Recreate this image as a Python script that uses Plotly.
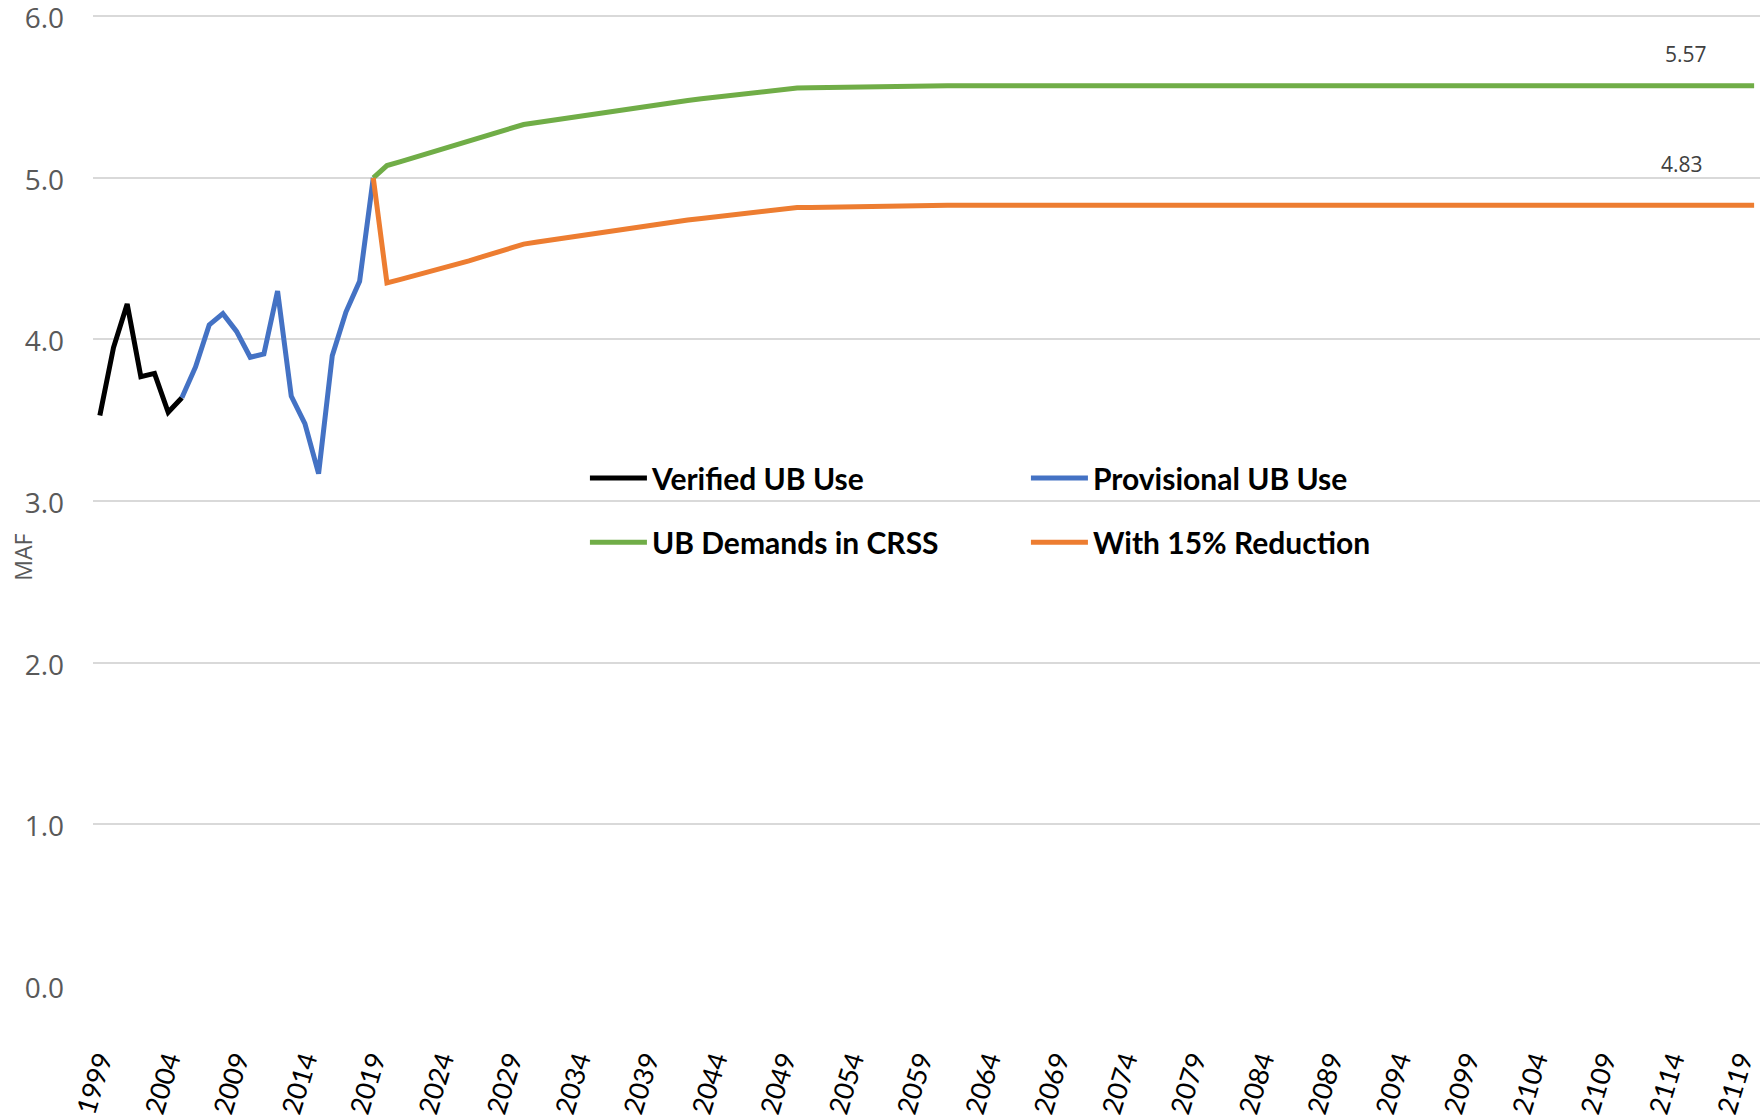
import plotly.graph_objects as go

# ---- data ----
verified_years = [1999, 2000, 2001, 2002, 2003, 2004, 2005]
verified_use = [3.53, 3.95, 4.22, 3.77, 3.79, 3.55, 3.64]

provisional_years = list(range(2005, 2020))
provisional_use = [3.64, 3.83, 4.09, 4.16, 4.05, 3.89, 3.91, 4.30,
                   3.65, 3.48, 3.17, 3.90, 4.17, 4.36, 5.00]

projection_years = list(range(2019, 2121))
crss_demands = [
    5.000,
    5.076, 5.101, 5.126, 5.150, 5.175, 5.200,
    5.226, 5.252, 5.278, 5.304, 5.330,
    5.343, 5.356, 5.369, 5.382, 5.395, 5.408, 5.421, 5.434, 5.447, 5.460,
    5.470, 5.479, 5.489, 5.498, 5.508, 5.518, 5.527, 5.537, 5.546, 5.556,
    5.557, 5.559, 5.560, 5.562, 5.563, 5.564, 5.566, 5.567, 5.569, 5.570,
    5.57, 5.57, 5.57, 5.57, 5.57, 5.57, 5.57, 5.57, 5.57, 5.57,
    5.57, 5.57, 5.57, 5.57, 5.57, 5.57, 5.57, 5.57, 5.57, 5.57,
    5.57, 5.57, 5.57, 5.57, 5.57, 5.57, 5.57, 5.57, 5.57, 5.57,
    5.57, 5.57, 5.57, 5.57, 5.57, 5.57, 5.57, 5.57, 5.57, 5.57,
    5.57, 5.57, 5.57, 5.57, 5.57, 5.57, 5.57, 5.57, 5.57, 5.57,
    5.57, 5.57, 5.57, 5.57, 5.57, 5.57, 5.57, 5.57, 5.57, 5.57,
]
reduced_demands = [
    5.000,
    4.350, 4.372, 4.394, 4.416, 4.438, 4.460,
    4.486, 4.512, 4.538, 4.564, 4.590,
    4.603, 4.616, 4.629, 4.642, 4.655, 4.668, 4.681, 4.694, 4.707, 4.720,
    4.730, 4.739, 4.749, 4.758, 4.768, 4.778, 4.787, 4.797, 4.806, 4.816,
    4.817, 4.819, 4.820, 4.822, 4.823, 4.824, 4.826, 4.827, 4.829, 4.830,
    4.83, 4.83, 4.83, 4.83, 4.83, 4.83, 4.83, 4.83, 4.83, 4.83,
    4.83, 4.83, 4.83, 4.83, 4.83, 4.83, 4.83, 4.83, 4.83, 4.83,
    4.83, 4.83, 4.83, 4.83, 4.83, 4.83, 4.83, 4.83, 4.83, 4.83,
    4.83, 4.83, 4.83, 4.83, 4.83, 4.83, 4.83, 4.83, 4.83, 4.83,
    4.83, 4.83, 4.83, 4.83, 4.83, 4.83, 4.83, 4.83, 4.83, 4.83,
    4.83, 4.83, 4.83, 4.83, 4.83, 4.83, 4.83, 4.83, 4.83, 4.83,
]

tick_years = [1999, 2004, 2009, 2014, 2019, 2024, 2029, 2034, 2039, 2044,
              2049, 2054, 2059, 2064, 2069, 2074, 2079, 2084, 2089, 2094,
              2099, 2104, 2109, 2114, 2119]
y_ticks = [0.0, 1.0, 2.0, 3.0, 4.0, 5.0, 6.0]
y_tick_labels = ["0.0", "1.0", "2.0", "3.0", "4.0", "5.0", "6.0"]

end_label_year = 2115
crss_end_value = 5.57
reduced_end_value = 4.83

# ---- figure ----
fig = go.Figure()
LW = 5
fig.add_trace(go.Scatter(x=verified_years, y=verified_use, mode="lines",
                         name="Verified UB Use", legend="legend",
                         line=dict(color="#000000", width=LW)))
fig.add_trace(go.Scatter(x=provisional_years, y=provisional_use, mode="lines",
                         name="Provisional UB Use", legend="legend",
                         line=dict(color="#4472C4", width=LW)))
fig.add_trace(go.Scatter(x=projection_years, y=crss_demands, mode="lines",
                         name="UB Demands in CRSS", legend="legend2",
                         line=dict(color="#70AD47", width=LW)))
fig.add_trace(go.Scatter(x=projection_years, y=reduced_demands, mode="lines",
                         name="With 15% Reduction", legend="legend2",
                         line=dict(color="#ED7D31", width=LW)))

legend_font = dict(family="Lato", size=30, color="#000000", weight="bold")
common_legend = dict(orientation="h", xanchor="left", yanchor="middle",
                     bgcolor="rgba(0,0,0,0)", borderwidth=0,
                     font=legend_font, itemwidth=57,
                     entrywidth=369, entrywidthmode="pixels",
                     itemclick=False, itemdoubleclick=False)

fig.update_layout(
    width=1760, height=1120,
    margin=dict(l=93, r=0, t=13, b=134, autoexpand=False),
    paper_bgcolor="#ffffff", plot_bgcolor="#ffffff",
    showlegend=True,
    legend=dict(x=0.2951, y=0.522, **common_legend),
    legend2=dict(x=0.2951, y=0.456, **common_legend),
    xaxis=dict(range=[1998.5, 2120.43], tickmode="array", tickvals=tick_years,
               ticktext=[str(t) for t in tick_years], tickangle=-73,
               tickfont=dict(family="Lato", size=27, color="#000000"),
               showgrid=False, zeroline=False, showline=False, ticks="",
               ticklabelstandoff=52, ticklabeloverflow="allow"),
    yaxis=dict(range=[0, 6.02], tickmode="array", tickvals=y_ticks,
               ticktext=y_tick_labels,
               tickfont=dict(family="Open Sans", size=28, color="#595959"),
               showgrid=True, gridcolor="#D9D9D9", gridwidth=1.5,
               zeroline=False, showline=False, ticks="",
               ticklabelstandoff=28, ticklabelshift=2,
               ticklabeloverflow="allow"),
)

fig.add_annotation(text="MAF", xref="paper", yref="paper", x=-0.0421, y=0.441,
                   textangle=-90, showarrow=False,
                   font=dict(family="Open Sans", size=23, color="#595959"),
                   xanchor="center", yanchor="middle")
fig.add_annotation(text=f"{crss_end_value:.2f}", x=end_label_year, y=crss_end_value,
                   xref="x", yref="y", showarrow=False, yshift=32,
                   font=dict(family="Open Sans", size=21, color="#404040"))
fig.add_annotation(text=f"{reduced_end_value:.2f}", x=end_label_year, y=reduced_end_value,
                   xref="x", yref="y", showarrow=False, yshift=41, xshift=-4,
                   font=dict(family="Open Sans", size=21, color="#404040"))

fig.write_html("out.html",
               config={"displayModeBar": False},
               post_script="document.body.style.margin='0';"
                           "document.body.style.overflow='hidden';")
